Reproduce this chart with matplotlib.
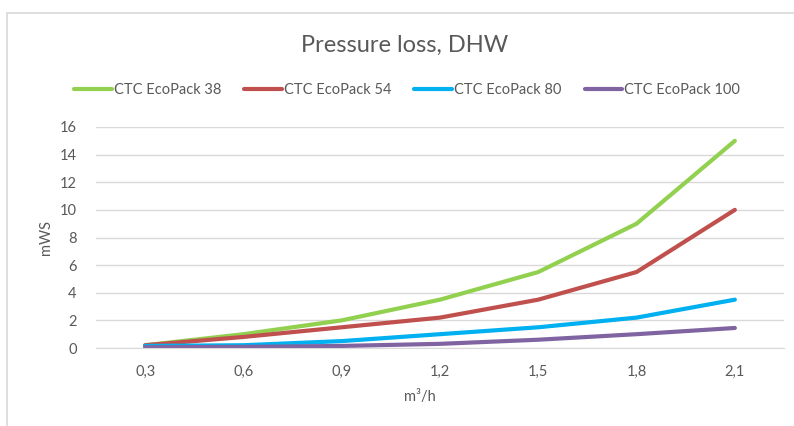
import matplotlib
matplotlib.use('Agg')
from matplotlib import pyplot as plt
from matplotlib.patches import Rectangle

flow = ['0,3', '0,6', '0,9', '1,2', '1,5', '1,8', '2,1']
ecopack_38 = [0.2, 1.0, 2.0, 3.5, 5.5, 9.0, 15.0]
ecopack_54 = [0.2, 0.8, 1.5, 2.2, 3.5, 5.5, 10.0]
ecopack_80 = [0.15, 0.2, 0.5, 1.0, 1.5, 2.2, 3.5]
ecopack_100 = [0.05, 0.08, 0.15, 0.3, 0.6, 1.0, 1.45]

series = [
    ('CTC EcoPack 38', ecopack_38, '#92D050'),
    ('CTC EcoPack 54', ecopack_54, '#C0504D'),
    ('CTC EcoPack 80', ecopack_80, '#00B0F0'),
    ('CTC EcoPack 100', ecopack_100, '#8064A2'),
]

plt.rcParams['font.family'] = ['Lato', 'DejaVu Sans']
text_color = '#595959'

fig = plt.figure(figsize=(7.94, 4.26), dpi=100)
# chart border (only left and top edges visible)
fig.patches.append(Rectangle((7 / 794, -0.1), 1.0, 1 - 13 / 426 + 0.1,
                             transform=fig.transFigure, fill=False,
                             edgecolor='#D9D9D9', linewidth=1.2))

ax = fig.add_axes([96 / 794, 1 - 348 / 426, (784 - 96) / 794, (348 - 127) / 426])
x = list(range(len(flow)))
for label, values, color in series:
    ax.plot(x, values, color=color, linewidth=3, label=label, solid_capstyle='round')

ax.set_xlim(-0.5, len(flow) - 0.5)
ax.set_ylim(0, 16)
ax.set_yticks(range(0, 17, 2))
ax.set_xticks(x)
ax.set_xticklabels(flow)
ax.grid(axis='y', color='#D9D9D9', linewidth=1)
ax.set_axisbelow(True)
for side in ['top', 'right', 'left']:
    ax.spines[side].set_visible(False)
ax.spines['bottom'].set_color('#D9D9D9')
ax.tick_params(length=0, labelsize=10.5, colors=text_color)
ax.tick_params(axis='x', pad=12)
ax.tick_params(axis='y', pad=14)

fig.text(420 / 794, 1 - 397 / 426, 'm³/h', ha='center', va='center', fontsize=10.5, color=text_color)
fig.text(46 / 794, 1 - 237 / 426, 'mWS', ha='center', va='center', rotation=90, fontsize=10.5, color=text_color)
fig.text(405 / 794, 1 - 45 / 426, 'Pressure loss, DHW', ha='center', va='center', fontsize=17, color=text_color)

fig.legend(loc='center', bbox_to_anchor=(407 / 794, 1 - 90 / 426), ncol=4, frameon=False,
           fontsize=10.5, handlelength=2.6, handletextpad=0.1, columnspacing=1.6,
           labelcolor=text_color)

fig.savefig('out.png', dpi=100)
